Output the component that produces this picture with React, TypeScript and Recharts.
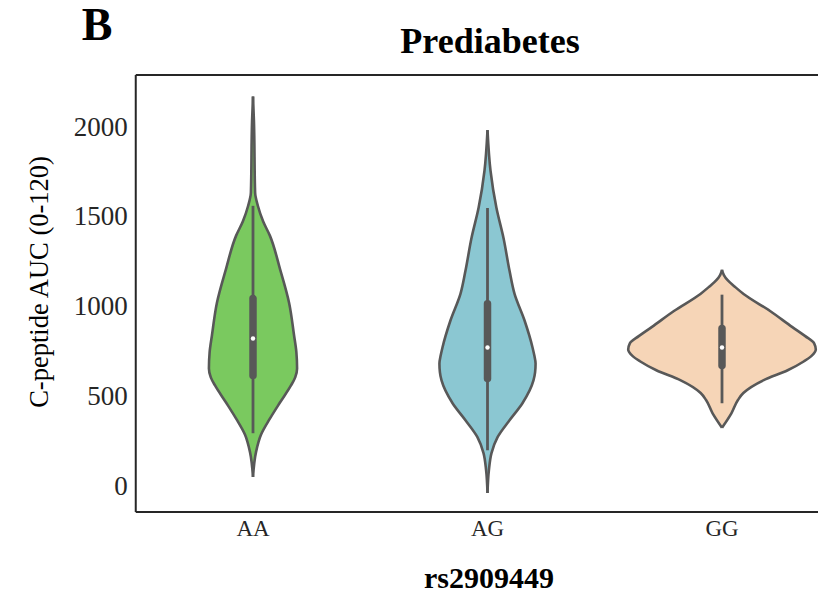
import React from "react";
import {
    ComposedChart,
    Area,
    XAxis,
    YAxis,
    ReferenceLine,
    ReferenceDot,
} from "recharts";

const CATEGORIES = ["AA", "AG", "GG"];
const Y_TICKS = [0, 500, 1000, 1500, 2000];
const COLORS = ["#7ac95f", "#8bc7d2", "#f6d5b7"];

// violin outlines: [C-peptide value, half width in category units]
const AA_PROFILE: [number, number][] = [
    [2165, 0], [2030, 0.004], [1630, 0.009], [1555, 0.021], [1470, 0.043],
    [1390, 0.072], [1205, 0.115], [1015, 0.154], [835, 0.175], [740, 0.185],
    [650, 0.188], [600, 0.18], [555, 0.162], [460, 0.115], [370, 0.072],
    [280, 0.034], [185, 0.013], [45, 0],
];
const AG_PROFILE: [number, number][] = [
    [1978, 0], [1750, 0.013], [1545, 0.038], [1378, 0.068], [1194, 0.094],
    [1067, 0.115], [917, 0.158], [767, 0.192], [720, 0.2], [678, 0.205],
    [630, 0.203], [583, 0.196], [456, 0.149], [361, 0.094], [267, 0.043],
    [178, 0.017], [83, 0.006], [-44, 0],
];
const GG_PROFILE: [number, number][] = [
    [1200, 0], [1170, 0.008], [1140, 0.025], [1105, 0.055], [1065, 0.092],
    [970, 0.205], [880, 0.3], [830, 0.355], [790, 0.393], [755, 0.4],
    [720, 0.382], [690, 0.35], [640, 0.28], [585, 0.178], [513, 0.091],
    [474, 0.068], [400, 0.04], [320, 0],
];

// box stats: [whisker low, q1, median, q3, whisker high]
const AA_BOX = [289, 611, 817, 1039, 1556];
const AG_BOX = [194, 594, 767, 1011, 1544];
const GG_BOX = [456, 667, 767, 872, 1061];

const PROFILES = [AA_PROFILE, AG_PROFILE, GG_PROFILE];
const BOXES = [AA_BOX, AG_BOX, GG_BOX];

const rows = AA_PROFILE.map((_, i) => {
    const row: Record<string, any> = {};
    PROFILES.forEach((p, k) => {
        row[`y${k}`] = p[i][0];
        row[`band${k}`] = [k - p[i][1], k + p[i][1]];
    });
    return row;
});

const FONT = "'Liberation Serif', 'Times New Roman', serif";
const OUTLINE = "#585858";
const Y_DOMAIN = [-150, 2285];

export default function App() {
    return (
        <div
            style={{
                position: "fixed",
                left: 0,
                top: 0,
                width: 818,
                height: 594,
                overflow: "hidden",
                background: "#fff",
            }}
        >
            <ComposedChart
                width={860}
                height={594}
                data={rows}
                layout="vertical"
                margin={{ top: 75, right: 20.75, bottom: 0, left: 0 }}
            >
                <XAxis
                    type="number"
                    domain={[-0.5, 2.5]}
                    ticks={[0, 1, 2]}
                    tickFormatter={(v) => CATEGORIES[v]}
                    allowDataOverflow
                    height={82}
                    tickLine={false}
                    axisLine={{ stroke: "#262626", strokeWidth: 2 }}
                    tick={{ fontSize: 23, fill: "#262626", fontFamily: FONT }}
                />
                {PROFILES.map((_, k) => (
                    <YAxis
                        key={`ax${k}`}
                        yAxisId={`v${k}`}
                        dataKey={`y${k}`}
                        type="number"
                        domain={Y_DOMAIN}
                        reversed
                        allowDataOverflow
                        hide={k > 0}
                        width={135.75}
                        ticks={Y_TICKS}
                        tickLine={false}
                        axisLine={{ stroke: "#262626", strokeWidth: 2 }}
                        tick={{ fontSize: 27, fill: "#262626", fontFamily: FONT }}
                    />
                ))}
                {/* top frame line */}
                <ReferenceLine
                    yAxisId="v0"
                    y={Y_DOMAIN[1]}
                    stroke="#262626"
                    strokeWidth={2}
                />
                {PROFILES.map((_, k) => (
                    <Area
                        key={`vio${k}`}
                        yAxisId={`v${k}`}
                        dataKey={`band${k}`}
                        type="monotone"
                        fill={COLORS[k]}
                        fillOpacity={1}
                        stroke={OUTLINE}
                        strokeWidth={2.6}
                        dot={false}
                        activeDot={false}
                        isAnimationActive={false}
                    />
                ))}
                {BOXES.map((b, k) => (
                    <ReferenceLine
                        key={`wh${k}`}
                        yAxisId={`v${k}`}
                        segment={[{ x: k, y: b[0] }, { x: k, y: b[4] }]}
                        stroke={OUTLINE}
                        strokeWidth={2.8}
                    />
                ))}
                {BOXES.map((b, k) => (
                    <ReferenceLine
                        key={`bx${k}`}
                        yAxisId={`v${k}`}
                        segment={[{ x: k, y: b[1] }, { x: k, y: b[3] }]}
                        stroke={OUTLINE}
                        strokeWidth={7.5}
                        strokeLinecap="round"
                    />
                ))}
                {BOXES.map((b, k) => (
                    <ReferenceDot
                        key={`md${k}`}
                        yAxisId={`v${k}`}
                        x={k}
                        y={b[2]}
                        r={2.2}
                        fill="#ffffff"
                        stroke="none"
                    />
                ))}
            </ComposedChart>
            <svg
                width={818}
                height={594}
                style={{ position: "absolute", left: 0, top: 0, pointerEvents: "none" }}
            >
                <text x={97} y={40} textAnchor="middle" fontFamily={FONT} fontWeight="bold" fontSize={46} fill="#000">
                    B
                </text>
                <text x={490} y={53} textAnchor="middle" fontFamily={FONT} fontWeight="bold" fontSize={36} fill="#000">
                    Prediabetes
                </text>
                <text x={489} y={588} textAnchor="middle" fontFamily={FONT} fontWeight="bold" fontSize={30} fill="#000">
                    rs2909449
                </text>
                <text
                    x={0}
                    y={0}
                    transform="translate(48,282) rotate(-90)"
                    textAnchor="middle"
                    fontFamily={FONT}
                    fontSize={26.5}
                    fill="#000"
                >
                    C-peptide AUC (0-120)
                </text>
            </svg>
        </div>
    );
}
